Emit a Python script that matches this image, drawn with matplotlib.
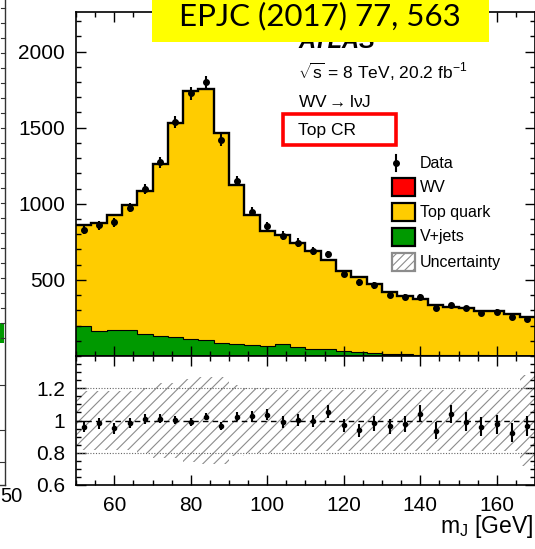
import matplotlib.pyplot as plt
import numpy as np
from matplotlib.patches import Rectangle
from matplotlib.lines import Line2D
from matplotlib.ticker import FixedLocator, MultipleLocator

plt.rcParams['font.family'] = ['Liberation Sans', 'DejaVu Sans']
plt.rcParams['mathtext.fontset'] = 'custom'
plt.rcParams['mathtext.rm'] = 'Liberation Sans'
plt.rcParams['mathtext.it'] = 'Liberation Sans:italic'
plt.rcParams['hatch.linewidth'] = 0.8

# 4 GeV bins of the large-R jet mass, 50-170 GeV
edges = np.arange(50, 171, 4)
centres = edges[:-1] + 2

vjets = np.array([199, 166, 171, 171, 144, 133, 122, 111, 107, 85, 82, 74, 68, 76, 56,
                  46, 44, 34, 24, 22, 14, 12, 9, 6, 5, 4, 4, 3, 3, 3])
top_quark = np.array([662, 706, 751, 817, 935, 1122, 1402, 1626, 1641, 1377, 1036, 847, 750, 718, 683,
                      640, 585, 521, 491, 449, 402, 382, 363, 330, 313, 310, 288, 293, 275, 249])
wv = np.array([2, 2, 3, 3, 4, 5, 6, 7, 7, 6, 5, 4, 4, 3, 3,
               3, 3, 2, 2, 2, 2, 2, 2, 1, 1, 1, 1, 1, 1, 1])
data = np.array([828, 858, 880, 975, 1095, 1273, 1538, 1725, 1798, 1420, 1150, 948, 852, 790, 745,
                 687, 667, 540, 485, 465, 403, 388, 390, 316, 332, 313, 282, 290, 258, 244])
# relative systematic uncertainty on the prediction
unc = np.array([0.18, 0.18, 0.18, 0.18, 0.20, 0.23, 0.23, 0.26, 0.27, 0.27, 0.22, 0.20, 0.20, 0.19, 0.19,
                0.19, 0.19, 0.19, 0.19, 0.19, 0.19, 0.19, 0.19, 0.19, 0.19, 0.19, 0.19, 0.19, 0.19, 0.28])

total = vjets + top_quark + wv
ratio = data / total
ratio_err = np.sqrt(data) / total

W, H = 535, 549
fig = plt.figure(figsize=(W / 100, H / 100), dpi=100)

def fx(x):
    return x / W

def fy(y):
    return 1 - y / H

ax = fig.add_axes([fx(76), fy(356), fx(535) - fx(76), fy(12) - fy(356)])
rax = fig.add_axes([fx(76), fy(485), fx(535) - fx(76), fy(356) - fy(485)], sharex=ax)

# stacked prediction
ax.stairs(vjets, edges, fill=True, color='#009900', lw=0)
ax.stairs(vjets + top_quark, edges, baseline=vjets, fill=True, color='#ffcc00', lw=0)
ax.stairs(total, edges, baseline=vjets + top_quark, fill=True, color='#ff0000', lw=0)
ax.stairs(vjets, edges, baseline=None, color='black', lw=0.8)
ax.stairs(total, edges, baseline=None, color='black', lw=1.7)
ax.errorbar(centres, data, yerr=np.sqrt(data), fmt='o', color='black', ms=4, lw=1.5, capsize=0)

ax.set_xlim(50, 170)
ax.set_ylim(0, 2260)
ax.yaxis.set_major_locator(FixedLocator([500, 1000, 1500, 2000]))
ax.yaxis.set_minor_locator(MultipleLocator(100))

# ratio panel
rax.stairs(1 + unc, edges, baseline=1 - unc, fill=True, hatch='///', facecolor='none',
           edgecolor='#8c8c8c', lw=0)
rax.axhline(1.0, color='black', ls=(0, (4, 3)), lw=1)
for yv in (0.8, 1.2):
    rax.axhline(yv, color='#666666', ls=(0, (1, 1.5)), lw=0.8)
rax.errorbar(centres, ratio, yerr=ratio_err, fmt='o', color='black', ms=3, lw=1.5, capsize=0)
rax.set_ylim(0.6, 1.4)
rax.yaxis.set_major_locator(FixedLocator([0.6, 0.8, 1.0, 1.2]))
rax.set_yticklabels(['0.6', '0.8', '1', '1.2'])
rax.yaxis.set_minor_locator(MultipleLocator(0.05))

for a in (ax, rax):
    a.xaxis.set_major_locator(MultipleLocator(20))
    a.xaxis.set_minor_locator(MultipleLocator(5))
    a.tick_params(which='both', direction='in', top=True, right=True, labelsize=15, width=1)
    a.tick_params(which='major', length=7, pad=8)
    a.tick_params(which='minor', length=3.5)
    for s in a.spines.values():
        s.set_linewidth(1.2)
ax.tick_params(labelbottom=False)

fig.text(fx(533), fy(527), r'm$_{\mathregular{J}}$ [GeV]', ha='right', va='center', fontsize=16.5)

# labels inside the main panel
fig.text(fx(298), fy(41), 'ATLAS', fontsize=17, fontweight='bold', fontstyle='italic',
         va='center', ha='left')
fig.text(fx(298), fy(72), r'$\sqrt{\mathrm{s}}$ = 8 TeV, 20.2 fb$^{\mathrm{-1}}$', fontsize=12.5,
         va='center', ha='left')
fig.text(fx(298), fy(102), r'WV$\rightarrow$l$\mathrm{\nu}$J', fontsize=12.5, va='center', ha='left')
fig.text(fx(298), fy(130), 'Top CR', fontsize=12.5, va='center', ha='left')
fig.add_artist(Rectangle((fx(283), fy(145)), fx(396) - fx(283), fy(114) - fy(145),
                         transform=fig.transFigure, fill=False, edgecolor='#ff0000', lw=2.6, zorder=5))

# legend
leg_y = [163, 187, 212, 237, 262]
fig.add_artist(Line2D([fx(396), fx(396)], [fy(leg_y[0] + 8), fy(leg_y[0] - 8)],
                      transform=fig.transFigure, color='black', lw=1.5))
fig.add_artist(Line2D([fx(396)], [fy(leg_y[0])], transform=fig.transFigure, marker='o',
                      ms=4, color='black'))
boxes = [('#ff0000', 'black', ''), ('#ffcc00', 'black', ''), ('#009900', 'black', ''),
         ('white', '#8c8c8c', '////')]
for (fc, ec, hatch), yc in zip(boxes, leg_y[1:]):
    fig.add_artist(Rectangle((fx(392), fy(yc + 9)), fx(415) - fx(392), fy(yc - 9) - fy(yc + 9),
                             transform=fig.transFigure, facecolor=fc, edgecolor=ec,
                             hatch=hatch, lw=1.6))
for label, yc in zip(['Data', 'WV', 'Top quark', 'V+jets', 'Uncertainty'], leg_y):
    fig.text(fx(420), fy(yc), label, fontsize=11.5, va='center', ha='left')

# edge of the neighbouring panel on the slide
fig.add_artist(Line2D([fx(5), fx(5)], [fy(0), fy(485)], transform=fig.transFigure, color='#333333', lw=1))
fig.add_artist(Line2D([fx(0), fx(5)], [fy(485), fy(485)], transform=fig.transFigure, color='#333333', lw=1))
for ty in np.arange(8, 340, 15):
    fig.add_artist(Line2D([fx(1.5), fx(5)], [fy(ty), fy(ty)], transform=fig.transFigure,
                          color='#333333', lw=0.8))
for ty in (385, 430, 462):
    fig.add_artist(Line2D([fx(0), fx(5)], [fy(ty), fy(ty)], transform=fig.transFigure,
                          color='#333333', lw=0.8))
fig.add_artist(Rectangle((fx(0), fy(343)), fx(4), fy(323) - fy(343), transform=fig.transFigure,
                         facecolor='#009900', lw=0))
fig.text(fx(0.5), fy(496), '50', fontsize=14.5, ha='left', va='center')

# journal reference banner
fig.add_artist(Rectangle((fx(152), fy(42)), fx(489) - fx(152), fy(0) - fy(42),
                         transform=fig.transFigure, facecolor='#ffff00', lw=0, zorder=10))
fig.text(fx(320), fy(16), 'EPJC (2017) 77, 563', fontsize=22.5, ha='center', va='center',
         family=['Lato', 'DejaVu Sans'], zorder=11)

fig.savefig('out.png', dpi=100)
